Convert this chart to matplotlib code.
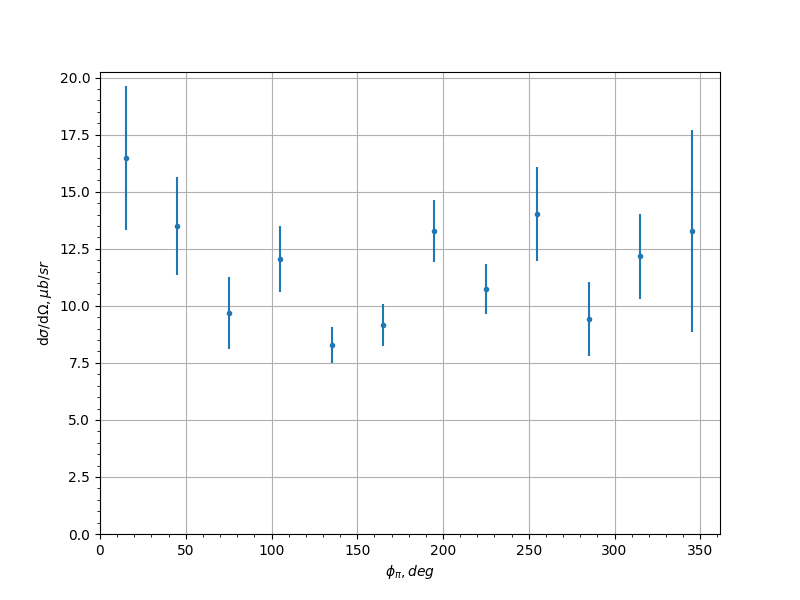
import matplotlib
matplotlib.use('Agg')
import matplotlib.pyplot as plt

# phi bins (deg) and cross sections (mub/sr)
phi = [15, 45, 75, 105, 135, 165, 195, 225, 255, 285, 315, 345]
xsec = [16.49, 13.5, 9.68, 12.05, 8.29, 9.15, 13.27, 10.73, 14.03, 9.42, 12.18, 13.28]
xsec_err = [3.15, 2.13, 1.57, 1.46, 0.8, 0.91, 1.35, 1.11, 2.05, 1.63, 1.86, 4.42]

fig = plt.figure(figsize=(8, 6), dpi=100)
ax = fig.add_subplot(111)
ax.errorbar(phi, xsec, yerr=xsec_err, fmt='.')
ax.set_xlim(left=0)
ax.set_ylim(bottom=0)
ax.minorticks_on()
ax.grid(True)
ax.set_xlabel(r'$\phi_\pi, deg$')
ax.set_ylabel(r'd$\sigma$/d$\Omega, \mu b/sr$')
fig.savefig('out.png')
